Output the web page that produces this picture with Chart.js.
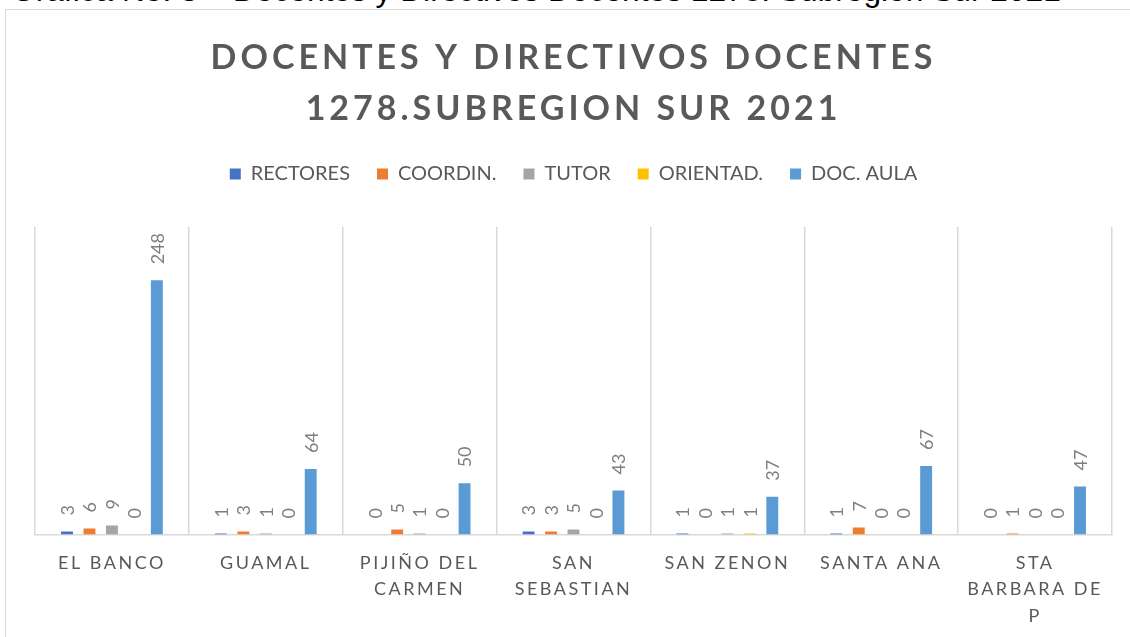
<!DOCTYPE html>
<html>
<head>
<meta charset="utf-8">
<script src="https://cdn.jsdelivr.net/npm/chart.js@4/dist/chart.umd.min.js"></script>
<style>
  html, body { margin: 0; padding: 0; background: #fff; overflow: hidden; }
  #caption {
    position: absolute; left: 11px; top: -26px; white-space: nowrap;
    font-family: "Liberation Sans", Arial, sans-serif; font-size: 31.7px; line-height: 32px; color: #000;
  }
  #frame {
    position: absolute; left: 5px; top: 9px; width: 1200px; height: 700px;
    border: 1px solid #d9d9d9; box-sizing: border-box;
  }
  #wrap { position: absolute; left: 0; top: 0; width: 1130px; height: 652px; }
</style>
</head>
<body>
<div id="caption">Gráfica No. 3 – Docentes y Directivos Docentes 1278. Subregión Sur 2021</div>
<div id="frame"></div>
<div id="wrap"><canvas id="chart"></canvas></div>
<script>
// data
const categories = ['EL BANCO', 'GUAMAL', ['PIJIÑO DEL', 'CARMEN'], ['SAN', 'SEBASTIAN'], 'SAN ZENON', 'SANTA ANA', ['STA', 'BARBARA DE', 'P']];
const rectores  = [3, 1, 0, 3, 1, 1, 0];
const coordin   = [6, 3, 5, 3, 0, 7, 1];
const tutor     = [9, 1, 1, 5, 1, 0, 0];
const orientad  = [0, 0, 0, 0, 1, 0, 0];
const docAula   = [248, 64, 50, 43, 37, 67, 47];
const seriesNames = ['RECTORES', 'COORDIN.', 'TUTOR', 'ORIENTAD.', 'DOC. AULA'];
const seriesColors = ['#4472C4', '#ED7D31', '#A5A5A5', '#FFC000', '#5B9BD5'];
const titleLines = ['DOCENTES Y DIRECTIVOS DOCENTES', '1278.SUBREGION SUR 2021'];

const allSeries = [rectores, coordin, tutor, orientad, docAula];

// letter spacing for title and category labels (Chart.js has no option for it)
const spacing = {
  id: 'spacing',
  afterLayout(chart) {
    const tb = chart.titleBlock;
    if (tb && !tb._spaced) {
      const orig = tb.draw;
      tb.draw = function () {
        this.ctx.save();
        this.ctx.letterSpacing = '4px';
        orig.apply(this, arguments);
        this.ctx.restore();
      };
      tb._spaced = true;
    }
    const sx = chart.scales.x;
    if (sx && !sx._spaced) {
      const origL = sx.drawLabels;
      sx.drawLabels = function () {
        this.ctx.save();
        this.ctx.letterSpacing = '2.5px';
        origL.apply(this, arguments);
        this.ctx.restore();
      };
      sx._spaced = true;
    }
  }
};

// rotated value labels above each bar
const valueLabels = {
  id: 'valueLabels',
  afterDatasetsDraw(chart) {
    const ctx = chart.ctx;
    ctx.save();
    ctx.font = '18px Lato';
    ctx.fillStyle = '#7f7f7f';
    ctx.textAlign = 'left';
    ctx.textBaseline = 'middle';
    chart.data.datasets.forEach((ds, i) => {
      chart.getDatasetMeta(i).data.forEach((bar, j) => {
        ctx.save();
        ctx.translate(bar.x, bar.y - 16);
        ctx.rotate(-Math.PI / 2);
        ctx.fillText(String(ds.data[j]), 0, 1);
        ctx.restore();
      });
    });
    ctx.restore();
  }
};

new Chart(document.getElementById('chart'), {
  type: 'bar',
  data: {
    labels: categories,
    datasets: allSeries.map((vals, i) => ({
      label: seriesNames[i],
      data: vals,
      backgroundColor: seriesColors[i],
      borderWidth: 0,
      categoryPercentage: 0.73,
      barPercentage: 0.53
    }))
  },
  options: {
    responsive: true,
    maintainAspectRatio: false,
    animation: false,
    layout: { padding: { left: 35, right: 18, top: 0, bottom: 8 } },
    plugins: {
      title: {
        display: true,
        text: titleLines,
        color: '#595959',
        font: { family: 'Lato', size: 34, weight: 'bold', lineHeight: 1.5 },
        padding: { top: 33, bottom: 2 }
      },
      legend: {
        display: true,
        position: 'top',
        labels: {
          color: '#595959',
          font: { family: 'Lato', size: 20 },
          boxWidth: 11,
          boxHeight: 11,
          padding: 27
        }
      },
      tooltip: { enabled: false }
    },
    scales: {
      x: {
        position: 'bottom',
        grid: { display: true, offset: true, color: '#d9d9d9', lineWidth: 1.5, drawTicks: false },
        border: { display: true, color: '#d9d9d9', width: 1.5 },
        ticks: {
          color: '#595959',
          font: { family: 'Lato', size: 18, lineHeight: 1.47 },
          padding: 15,
          autoSkip: false,
          maxRotation: 0,
          minRotation: 0
        }
      },
      gap: {
        type: 'category',
        position: 'top',
        display: true,
        grid: { display: false },
        border: { display: false },
        ticks: { display: false },
        afterFit(scale) { scale.height = 33; }
      },
      y: {
        display: false,
        min: 0,
        max: 300
      }
    }
  },
  plugins: [spacing, valueLabels]
});
</script>
</body>
</html>
